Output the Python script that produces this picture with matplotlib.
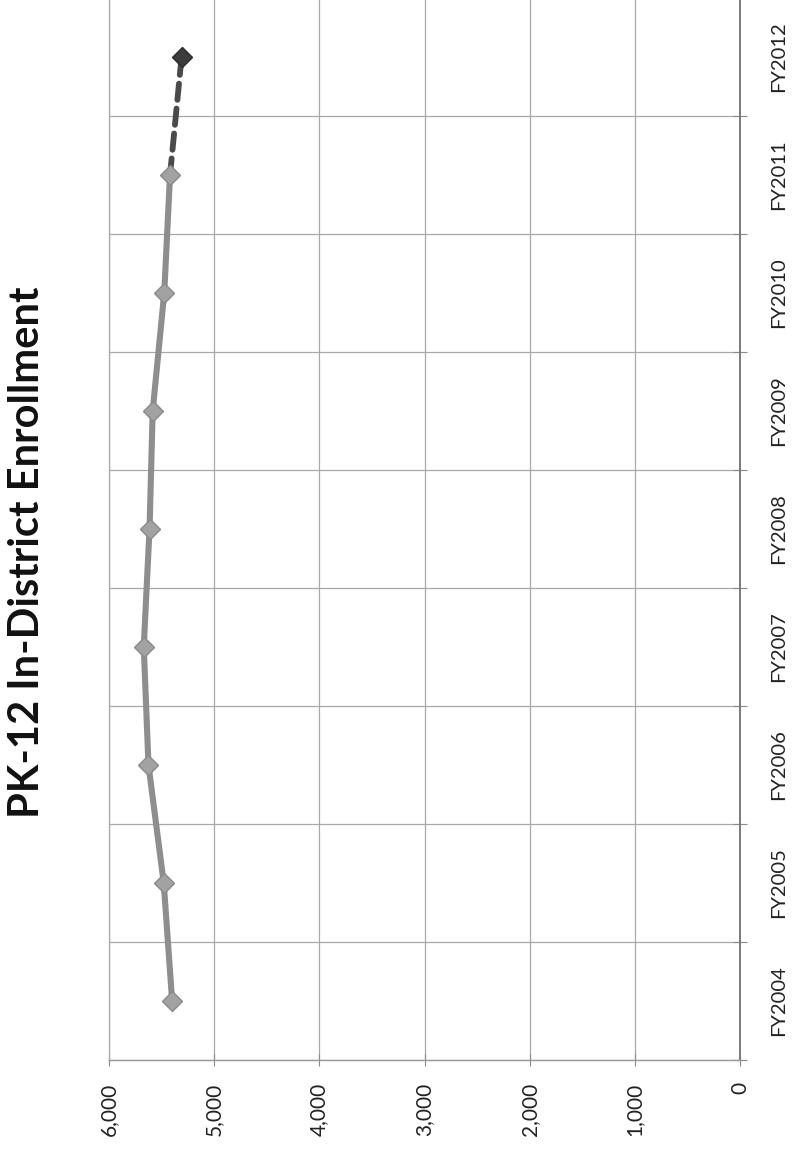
import numpy as np
import matplotlib.pyplot as plt

years = ["FY2004", "FY2005", "FY2006", "FY2007", "FY2008",
         "FY2009", "FY2010", "FY2011", "FY2012"]
# actual enrollment FY2004-FY2011, projection for FY2012
enrollment = [5400, 5480, 5625, 5670, 5615, 5585, 5475, 5420]
projected = 5310
value_ticks = [0, 1000, 2000, 3000, 4000, 5000, 6000]

plt.rcParams["font.family"] = ["Lato", "DejaVu Sans"]

fig = plt.figure(figsize=(7.96, 11.56), dpi=100)
# chart is laid out turned on its side: values run right-to-left, years bottom-to-top
ax = fig.add_axes([0.137, 0.083, 0.7926, 0.919])

ax.plot(enrollment, years[:len(enrollment)], color="#8e8e8e", lw=4.4,
        marker="D", ms=10.5, mfc="#a2a2a2", mec="#8a8a8a", mew=1, zorder=3)
ax.plot([enrollment[-1], projected], years[len(enrollment) - 1:], color="#4a4a4a",
        lw=4.2, dashes=(2.8, 1.5), dash_capstyle="round", zorder=2)
ax.plot([projected], [years[-1]], ls="none", marker="D", ms=10.5,
        mfc="#3c3c3c", mec="#2c2c2c", mew=1, zorder=4)

ax.set_xlim(6000, 0)
ax.set_ylim(-0.5, len(years) - 0.5)

ax.set_xticks(value_ticks)
ax.set_xticklabels([f"{v:,}" for v in value_ticks], rotation=90,
                   ha="center", va="top", fontsize=15, color="#222222")
ax.tick_params(axis="x", direction="inout", length=8, width=0.8,
               color="#8a8a8a", pad=12)

ax.yaxis.tick_right()
ax.set_yticks(np.arange(len(years)))
ax.set_yticklabels(years, rotation=90, ha="left", va="center",
                   fontsize=14.5, color="#222222")
ax.set_yticks(np.arange(-0.5, len(years), 1), minor=True)
ax.tick_params(axis="y", which="major", length=0, pad=22)
ax.tick_params(axis="y", which="minor", direction="inout", length=10,
               width=0.8, color="#8a8a8a")

ax.grid(axis="x", which="major", color="#a8a8a8", lw=0.9)
ax.grid(axis="y", which="minor", color="#a8a8a8", lw=0.9)
ax.set_axisbelow(True)

ax.spines["top"].set_visible(False)
ax.spines["left"].set_color("#a8a8a8")
ax.spines["left"].set_linewidth(0.9)
ax.spines["bottom"].set_color("#9a9a9a")
ax.spines["bottom"].set_linewidth(1.0)
ax.spines["right"].set_color("#7a7a7a")
ax.spines["right"].set_linewidth(1.4)

fig.text(0.034, 0.522, "PK-12 In-District Enrollment", rotation=90,
         ha="center", va="center", fontsize=30, fontweight="bold", color="#111111")

fig.savefig("out.png", dpi=100, facecolor="white")
